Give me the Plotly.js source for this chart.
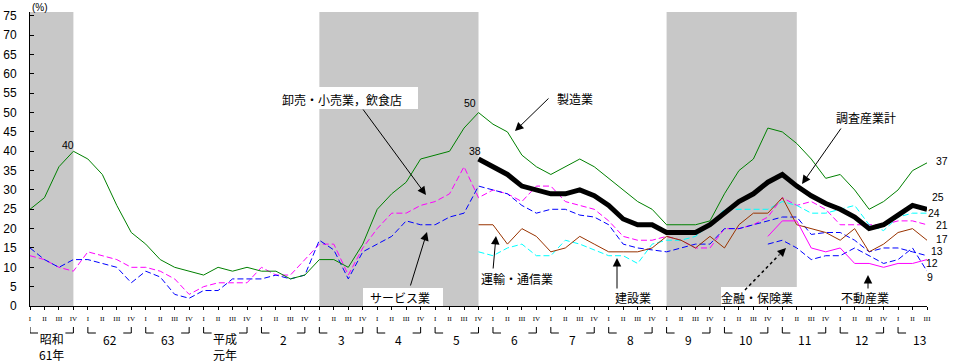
<!DOCTYPE html>
<html><head><meta charset="utf-8">
<script src="https://cdn.plot.ly/plotly-3.0.1.min.js"></script>
<style>html,body{margin:0;padding:0;background:#fff}#chart{width:954px;height:362px}</style>
</head><body><div id="chart"></div>
<script>
// ---------- data ----------
const quarterLabels = ['I','II','III','IV'];
const yearLabels  = ['昭和','62','63','平成','2','3','4','5','6','7','8','9','10','11','12','13'];
const yearLabels2 = ['61年','','','元年','','','','','','','','','','','',''];
const nQuarters = 63; // 昭和61 I  ..  平成13 III

// 製造業 (from 昭和61 I)
const manufacturing = [25,28,36,40,38,34,26,19,16,12,10,9,8,10,9,10,9,9,7,8,12,12,10,16,25,29,32,38,39,40,46,50,47,45,39,36,34,36,38,36,33,30,27,25,21,21,21,22,29,35,38,46,45,42,38,33,34,30,25,27,30,35,37];
// 卸売・小売業，飲食店 (from 昭和61 I)
const wholesale = [13,12,10,9,14,13,12,10,10,9,7,3,5,6,6,6,10,8,8,12,16,16,8,15,20,24,24,26,27,29,36,28,30,29,27,31,31,27,26,25,22,18,17,17,18,17,15,15,20,20,21,23,28,26,27,25,21,21,21,21,22,22,21];
// サービス業 (from 昭和61 I)
const services = [15,12,10,12,12,11,10,6,9,7.5,3,2,4,4,7,7,7,8,7,8,17,14.5,7,14,16,18,22,21,21,23,24,31,30,29,26,24,25,25,23.5,23,21,16,15,14.5,14,15,16,16,20,20,21,22,23,23,18.5,19,19,17,14,15,15,14,13];
// 調査産業計 (from 平成5 IV)
const allStart = 31;
const allIndustries = [38,36,34,31,30,29,29,30,28.5,26,22.5,21,21,19,19,19,21,24,27,29,32,34,31,28.5,26.5,25,23,20,21,23.5,26,25];
// 運輸・通信業 (from 平成5 IV)
const transportStart = 31;
const transport = [21,21,16,20,18,14,15,18,16,14,14,14,15,18,17,15,18,15,21,24,24,28,21,20,19,17,20,14,16,19,20,17];
// 建設業 (from 平成5 IV)
const constructionStart = 31;
const construction = [14,13,15,16,13,13,17,16,14.5,13,13,11,16,17,17,18,21,25,25,25,25,27,26,24,24,25,26,21,19.5,23,24,24];
// 金融・保険業 (from 平成10 IV)
const financeStart = 51;
const finance = [16,17,15,12,13,13,15,13,11,12,15,9];
// 不動産業 (from 平成10 IV)
const realEstateStart = 51;
const realEstate = [18,22,22,15,14,15,11,11,10,11,11,12];
// 景気後退期 (quarter index ranges)
const recessions = [[0,3],[20,31],[44,53]];

// ---------- geometry helpers (plot area in px) ----------
const W = 954, Hh = 362, L = 30, R = 27, T = 12, B = 56;
const PW = W - L - R, PH = Hh - T - B;
const XMAX = nQuarters - 1, YMAX = 76;
const px2x = px => (px - L) / PW * XMAX;
const py2y = py => (T + PH - py) / PH * YMAX;
const py2p = py => (T + PH - py) / PH;
const px2p = px => (px - L) / PW;

const idx = (start, arr) => arr.map((_, i) => start + i);

const FONT = '"Noto Sans CJK JP", "Noto Sans", sans-serif';
const NUMFONT = '"Liberation Sans", Arial, sans-serif';

function line(name, start, arr, color, width, dash) {
  return {type:'scatter', mode:'lines', name, x: idx(start, arr), y: arr,
    line:{color, width, dash: dash || 'solid'}, hoverinfo:'skip', showlegend:false};
}
const DASH = '6px,3px';
const traces = [
  line('卸売・小売業，飲食店', 0, wholesale, '#ff00ff', 1, DASH),
  line('サービス業', 0, services, '#0000ff', 1, DASH),
  line('建設業', constructionStart, construction, '#00ffff', 1, DASH),
  line('運輸・通信業', transportStart, transport, '#993300', 1),
  line('金融・保険業', financeStart, finance, '#0000ff', 1, DASH),
  line('不動産業', realEstateStart, realEstate, '#ff00ff', 1),
  line('製造業', 0, manufacturing, '#008000', 1),
  line('調査産業計', allStart, allIndustries, '#000000', 5)
];

// ---------- shapes ----------
const shapes = [];
recessions.forEach(([a,b]) => shapes.push({type:'rect', xref:'x', yref:'paper', x0:a, x1:b, y0:0, y1:1,
  fillcolor:'#c8c8c8', line:{width:0}, layer:'below'}));
// white label boxes
[[275,87,418,109],[363,288,443,306],[721,287,797,306]].forEach(([x0,y0,x1,y1]) =>
  shapes.push({type:'rect', xref:'x', yref:'y', x0:px2x(x0), x1:px2x(x1), y0:py2y(y1), y1:py2y(y0),
    fillcolor:'#ffffff', line:{width:0}, layer:'below'}));
// year brackets
const bw = 8 / PW * XMAX;
for (let k = 0; k < yearLabels.length; k++) {
  const a = 4*k, b = 4*k + 3;
  const yTop = py2p(327), yBot = py2p(333);
  const st = {xref:'x', yref:'paper', type:'line', line:{color:'#000', width:1}};
  shapes.push(Object.assign({}, st, {x0:a, x1:a, y0:yTop, y1:yBot}));
  shapes.push(Object.assign({}, st, {x0:a, x1:a+bw, y0:yBot, y1:yBot}));
  if (b <= XMAX) {
    shapes.push(Object.assign({}, st, {x0:b, x1:b, y0:yTop, y1:yBot}));
    shapes.push(Object.assign({}, st, {x0:b-bw, x1:b, y0:yBot, y1:yBot}));
  }
}
// dotted arrow shaft (金融・保険業)
shapes.push({type:'line', xref:'x', yref:'y', x0:px2x(745), y0:py2y(290), x1:px2x(779), y1:py2y(255),
  line:{color:'#000', width:1.5, dash:'dot'}});

// ---------- annotations ----------
const ann = [];
yearLabels.forEach((t, k) => {
  const cx = 4*k + 1.5;
  const two = !!yearLabels2[k];
  ann.push({xref:'x', yref:'paper', x:cx, y:py2p(two ? 346 : 339),
    text: two ? t + '<br>' + yearLabels2[k] : t, showarrow:false,
    font:{family:FONT, size:12, color:'#000'}, xanchor:'center', yanchor:'middle'});
});
ann.push({xref:'paper', yref:'paper', x:px2p(40), y:py2p(7), text:'(%)', showarrow:false,
  font:{family:NUMFONT, size:10, color:'#000'}, xanchor:'center', yanchor:'middle'});

// value labels
function vlab(xi, val, dx, dy) {
  ann.push({xref:'x', yref:'y', x:xi, y:val, text:String(val), showarrow:false, xshift:dx, yshift:dy,
    font:{family:NUMFONT, size:10.5, color:'#000'}, xanchor:'center', yanchor:'middle', borderpad:0});
}
vlab(3, manufacturing[3], -5, 6);
vlab(31, manufacturing[31], -9, 10);
vlab(allStart, allIndustries[0], -4, 8);
vlab(XMAX, manufacturing[XMAX], 15, 2);
vlab(XMAX, allIndustries[allIndustries.length-1], 11, 12);
vlab(XMAX, construction[construction.length-1], 7, 0);
vlab(XMAX, wholesale[XMAX], 15, 0);
vlab(XMAX, transport[transport.length-1], 15, 1);
vlab(XMAX, services[XMAX], 10, 5);
vlab(XMAX, realEstate[realEstate.length-1], 5, -3);
vlab(XMAX, finance[finance.length-1], 3, -6);

// series name labels [text, cx, cy]
[['卸売・小売業，飲食店',342,99],['製造業',575,98],['調査産業計',866,117],['サービス業',400,297],
 ['運輸・通信業',517,278],['建設業',633,297],['金融・保険業',757,297],['不動産業',865,297]].forEach(([t,cx,cy]) =>
  ann.push({xref:'x', yref:'y', x:px2x(cx), y:py2y(cy), text:t, showarrow:false,
    font:{family:FONT, size:12, color:'#000'}, xanchor:'center', yanchor:'middle'}));

// arrows: tail px -> tip px
[[[362,108],[426,195]],[[550,97],[515,131]],[[842,127],[802,184]],[[410,287],[427,232]],
 [[493,270],[496,236]],[[617,290],[617,258]],[[868,290],[868,275]],[[778,256],[786,248]]].forEach(([tail,tip]) =>
  ann.push({xref:'x', yref:'y', x:px2x(tip[0]), y:py2y(tip[1]), ax:tail[0]-tip[0], ay:tail[1]-tip[1],
    text:'', showarrow:true, arrowhead:2, arrowsize:1.7, arrowwidth:1, arrowcolor:'#000', standoff:0}));

const layout = {
  width:W, height:Hh, margin:{l:L, r:R, t:T, b:B, pad:0},
  paper_bgcolor:'#fff', plot_bgcolor:'rgba(0,0,0,0)', showlegend:false,
  xaxis:{range:[0, XMAX], tickmode:'array', tickvals:[...Array(nQuarters).keys()],
    ticktext:[...Array(nQuarters).keys()].map(i => quarterLabels[i % 4]),
    ticks:'outside', ticklen:3, tickcolor:'#000', showline:true, linecolor:'#000', linewidth:1,
    showgrid:false, zeroline:false, tickangle:0, ticklabelstandoff:3,
    tickfont:{family:'"Liberation Serif", serif', size:7, color:'#000'}, fixedrange:true},
  yaxis:{range:[0, YMAX], tickmode:'linear', tick0:0, dtick:5, ticks:'inside', ticklen:4, tickcolor:'#000',
    showline:true, linecolor:'#000', linewidth:1, showgrid:false, zeroline:false, ticklabelstandoff:10,
    tickfont:{family:NUMFONT, size:12, color:'#000'}, fixedrange:true},
  shapes, annotations: ann
};
Plotly.newPlot('chart', traces, layout, {staticPlot:true, displayModeBar:false});
</script></body></html>
